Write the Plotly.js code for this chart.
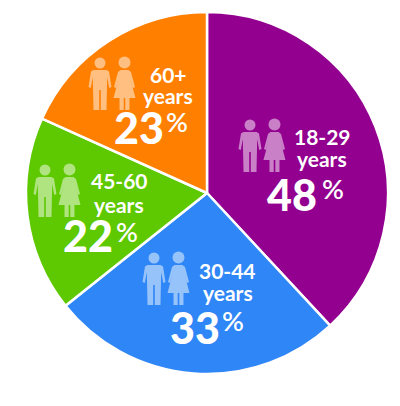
<!DOCTYPE html>
<html><head><meta charset="utf-8">
<script src="https://cdn.plot.ly/plotly-3.0.0.min.js"></script>
<style>html,body{margin:0;padding:0;background:#fff}</style></head>
<body><div id="c" style="width:400px;height:406px"></div>
<script>
const ageGroups=["18-29","30-44","45-60","60+"];
const yearWord="years";
const values=[48,33,22,23];
const colors=["#93008f","#2f86f6","#5ec800","#ff7f00"];
const rangeLabelXY=[[322,136],[228,270],[119,181],[168,74]];
const yearsLabelXY=[[322,158],[228,292],[119,204],[168,96]];
const bigLabelXY=[[292,194],[195,327],[88,236],[139,127]];
const pctLabelXY=[[333,188],[233,320],[127,231],[177,121]];
const iconXY=[[250,125],[154,258],[45,170],[100,63]];
const W=400,H=406,cx=207,cy=193,R=181;
const FONT="Lato, 'Open Sans', sans-serif";
const px=x=>x/W, py=y=>1-y/H;
const annotations=[],shapes=[];
function note(xy,text,size,weight){annotations.push({x:px(xy[0]),y:py(xy[1]),xref:"paper",yref:"paper",text:text,showarrow:false,xanchor:"center",yanchor:"middle",font:{family:FONT,size:size,weight:weight,color:"#fff"}});}
const MAN=[["M",-6.5,7],["L",6.5,7],["L",9,8.5],["L",11.5,24],["L",9.2,25],["L",7.2,14],["L",6.5,47],["L",0.8,47],["L",0.8,27],["L",-0.8,27],["L",-0.8,47],["L",-6.5,47],["L",-7.2,14],["L",-9.2,25],["L",-11.5,24],["L",-9,8.5]];
const WOMAN=[["M",-4,7],["L",4,7],["L",6.5,9],["L",10.5,24],["L",8.5,25],["L",6,16],["L",11,35],["L",5,35],["L",5,47],["L",0.8,47],["L",0.8,35],["L",-0.8,35],["L",-0.8,47],["L",-5,47],["L",-5,35],["L",-11,35],["L",-6,16],["L",-8.5,25],["L",-10.5,24],["L",-6.5,9]];
function pathShape(pts,ox,oy){const d=pts.map(p=>p[0]+" "+px(ox+p[1]).toFixed(4)+" "+py(oy+p[2]).toFixed(4)).join(" ")+" Z";
 shapes.push({type:"path",xref:"paper",yref:"paper",path:d,fillcolor:"rgba(255,255,255,0.5)",line:{width:0}});}
function head(ox,oy,r){shapes.push({type:"circle",xref:"paper",yref:"paper",x0:px(ox-r),x1:px(ox+r),y0:py(oy+r),y1:py(oy-r),fillcolor:"rgba(255,255,255,0.5)",line:{width:0}});}
values.forEach((v,i)=>{
 note(rangeLabelXY[i],"<b>"+ageGroups[i]+"</b>",21,600);
 note(yearsLabelXY[i],"<b>"+yearWord+"</b>",21,600);
 note(bigLabelXY[i],""+v,43,900);
 note(pctLabelXY[i],"%",27,600);
 const [x,y]=iconXY[i];
 head(x,y,5.5);pathShape(MAN,x,y);
 head(x+24.5,y-0.5,6);pathShape(WOMAN,x+24.5,y);
});
Plotly.newPlot("c",[{type:"pie",values:values,labels:ageGroups,sort:false,direction:"clockwise",rotation:0,textinfo:"none",hoverinfo:"label+value",marker:{colors:colors,line:{color:"#fff",width:2.5}},domain:{x:[(cx-R)/W,(cx+R)/W],y:[1-(cy+R)/H,1-(cy-R)/H]}}],
{width:W,height:H,margin:{l:0,r:0,t:0,b:0},showlegend:false,paper_bgcolor:"#fff",annotations:annotations,shapes:shapes},{displayModeBar:false});
</script></body></html>
